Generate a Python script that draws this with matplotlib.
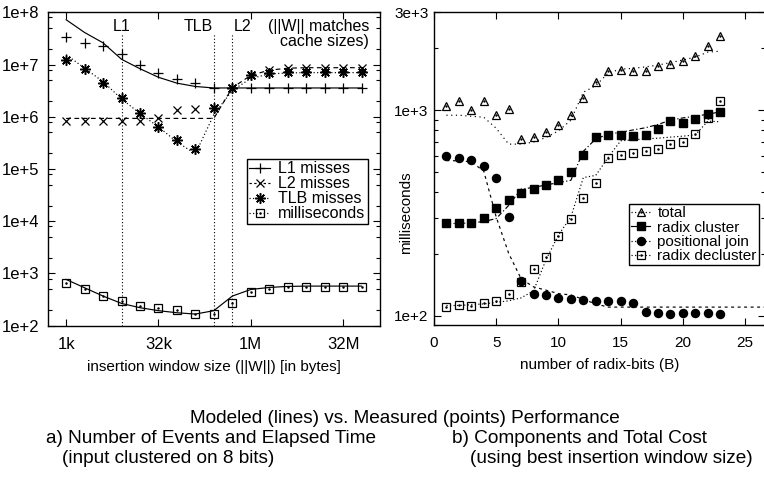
import matplotlib
matplotlib.use('Agg')
import matplotlib.pyplot as plt
from matplotlib.lines import Line2D
from matplotlib.ticker import LogLocator, NullLocator, FixedLocator, FixedFormatter
from matplotlib.transforms import blended_transform_factory

plt.rcParams['font.family'] = ['Liberation Sans', 'DejaVu Sans']

# ---- (a) events and elapsed time vs insertion window size (KB) ----
window_kb = [1, 2, 4, 8, 16, 32, 64, 128, 256, 512, 1024, 2048, 4096,
             8192, 16384, 32768, 65536]
l1_meas = [3.3e7, 2.6e7, 2.3e7, 1.56e7, 1.0e7, 7.0e6, 5.3e6, 4.4e6, 3.5e6,
           3.5e6, 3.5e6, 3.5e6, 3.5e6, 3.5e6, 3.5e6, 3.5e6, 3.5e6]
l1_model = [7.2e7, 4.1e7, 2.6e7, 1.26e7, 8.3e6, 5.7e6, 4.4e6, 3.8e6, 3.56e6,
            3.56e6, 3.56e6, 3.56e6, 3.56e6, 3.56e6, 3.56e6, 3.56e6, 3.56e6]
l2_meas = [8.4e5, 8.4e5, 8.4e5, 8.4e5, 8.4e5, 9.4e5, 1.32e6, 1.4e6, 1.48e6,
           3.5e6, 6.3e6, 7.9e6, 8.6e6, 8.7e6, 8.7e6, 8.7e6, 8.7e6]
l2_model = [9.3e5, 9.3e5, 9.3e5, 9.3e5, 9.3e5, 9.3e5, 9.3e5, 9.3e5, 9.3e5,
            3.6e6, 6.2e6, 7.8e6, 8.5e6, 8.7e6, 8.7e6, 8.7e6, 8.7e6]
tlb_meas = [1.23e7, 8.3e6, 4.5e6, 2.3e6, 1.19e6, 6.4e5, 3.6e5, 2.4e5, 1.48e6,
            3.5e6, 6.2e6, 6.8e6, 7.1e6, 7.1e6, 7.1e6, 7.1e6, 7.1e6]
tlb_model = [1.55e7, 8.5e6, 4.7e6, 2.2e6, 1.15e6, 6.4e5, 3.3e5, 1.95e5, 1.1e6,
             3.2e6, 5.4e6, 6.6e6, 6.9e6, 7.0e6, 7.0e6, 7.0e6, 7.0e6]
ms_meas = [644, 502, 374, 300, 241, 214, 199, 167, 167, 271, 433, 502, 540,
           548, 556, 556, 556]
ms_model = [768, 532, 369, 267, 221, 194, 177, 167, 194, 369, 494, 540, 565,
            573, 573, 573, 573]
cache_kb = [8, 256, 512]
cache_names = ['L1', 'TLB', 'L2']
xtick_kb = [1, 32, 1024, 32768]
xtick_labels = ['1k', '32k', '1M', '32M']

# ---- (b) cost components vs number of radix bits ----
bits = [1, 2, 3, 4, 5, 6, 7, 8, 9, 10, 11, 12, 13, 14, 15, 16, 17, 18, 19,
        20, 21, 22, 23]
total_meas = [1045, 1105, 1000, 1105, 953, 1019, 726, 745, 787, 847, 953,
              1146, 1368, 1557, 1574, 1557, 1557, 1644, 1687, 1738, 1836,
              2051, 2291]
total_model = [946, 946, 935, 925, 817, 684, 684, 700, 737, 793, 895, 1224,
               1318, 1519, 1585, 1600, 1626, 1660, 1706, 1758, 1816, 1919,
               1940]
cluster_meas = [281, 284, 284, 300, 335, 367, 395, 413, 432, 456, 500, 604,
                737, 759, 759, 750, 759, 811, 886, 863, 906, 957, 982]
cluster_model = [281, 281, 283, 287, 297, 344, 413, 421, 433, 444, 456, 631,
                 726, 764, 782, 802, 822, 853, 895, 918, 935, 957, 982]
join_meas = [597, 586, 571, 535, 470, 302, 147, 128, 126, 122, 121, 119, 118,
             118, 118, 115, 104, 103, 102, 103, 103, 103, 102]
join_bits = [1, 2, 3, 4, 5, 6, 7, 8, 9, 10, 11, 12, 13, 14, 15, 16, 17, 18,
             19, 20, 21, 22, 23, 24, 25, 26, 27]
join_model = [569, 567, 561, 505, 302, 201, 151, 138, 133, 128, 126, 120, 114,
              110, 110, 110, 110, 110, 110, 110, 110, 110, 110, 110, 110, 110,
              110]
decl_meas = [110, 113, 111, 115, 118, 128, 145, 169, 194, 244, 297, 374, 442,
             586, 608, 620, 631, 650, 684, 699, 764, 922, 1110]
decl_model = [112, 112, 113, 114, 116, 118, 122, 132, 187, 247, 302, 470, 482,
              590, 710, 718, 726, 731, 740, 748, 759, 885, 879]

W, H = 764, 483
fig = plt.figure(figsize=(W / 100, H / 100), dpi=100)
ax1 = fig.add_axes([47.7 / W, 1 - 325.7 / H, 332.3 / W, 313.4 / H])
ax2 = fig.add_axes([434 / W, 1 - 325 / H, 331 / W, 312.7 / H])

lw = 0.85
k = 'black'


def dotted_square(ax, x, y, ms=6):
    ax.plot(x, y, ls='none', marker='s', ms=ms, mfc='none', mec=k, mew=0.9)
    ax.plot(x, y, ls='none', marker='.', ms=1.6, color=k)


# panel a
ax1.plot(window_kb, l1_model, color=k, lw=lw)
ax1.plot(window_kb, l1_meas, ls='none', marker='+', ms=6.5, mew=0.9, color=k)
ax1.plot(window_kb, l2_model, color=k, lw=lw, ls=(0, (4, 3)))
ax1.plot(window_kb, l2_meas, ls='none', marker='x', ms=5.5, mew=0.9, color=k)
ax1.plot(window_kb, tlb_model, color=k, lw=lw, ls=(0, (1, 2)))
ax1.plot(window_kb, tlb_meas, ls='none', marker=(8, 2, 0), ms=7.5, mew=1.1,
         color=k)
ax1.plot(window_kb, ms_model, color=k, lw=lw)
dotted_square(ax1, window_kb, ms_meas)

for c in cache_kb:
    ax1.axvline(c, ymin=0, ymax=0.934, color=k, lw=0.8, ls=(0, (1, 2)))
tr = blended_transform_factory(ax1.transData, ax1.transAxes)
ax1.text(cache_kb[0], 0.954, cache_names[0], transform=tr, ha='center',
         va='center', fontsize=11.5)
ax1.text(cache_kb[1] * 0.96, 0.954, cache_names[1], transform=tr, ha='right',
         va='center', fontsize=11.5)
ax1.text(cache_kb[2] * 1.04, 0.954, cache_names[2], transform=tr, ha='left',
         va='center', fontsize=11.5)
ax1.text(0.967, 0.954, '(||W|| matches', transform=ax1.transAxes, ha='right',
         va='center', fontsize=11.5)
ax1.text(0.967, 0.906, 'cache sizes)', transform=ax1.transAxes, ha='right',
         va='center', fontsize=11.5)

ax1.set_xscale('log', base=2)
ax1.set_yscale('log')
ax1.set_xlim(0.5, 131072)
ax1.set_ylim(1e2, 1e8)
ax1.xaxis.set_major_locator(FixedLocator(xtick_kb))
ax1.xaxis.set_major_formatter(FixedFormatter(xtick_labels))
ax1.xaxis.set_minor_locator(NullLocator())
ax1.set_yticks([1e2, 1e3, 1e4, 1e5, 1e6, 1e7, 1e8])
ax1.set_yticklabels(['1e+2', '1e+3', '1e+4', '1e+5', '1e+6', '1e+7', '1e+8'])
ax1.yaxis.set_minor_locator(LogLocator(base=10, subs=[2, 5, 8]))
ax1.set_xlabel('insertion window size (||W||) [in bytes]', fontsize=11,
               labelpad=6)

h_l1 = Line2D([], [], color=k, lw=lw, marker='+', ms=6.5, mew=0.9)
h_l2 = Line2D([], [], color=k, lw=lw, ls=(0, (2, 2)), marker='x', ms=5.5,
              mew=0.9)
h_tlb = Line2D([], [], color=k, lw=lw, ls=(0, (1, 2)), marker=(8, 2, 0),
               ms=7.5, mew=1.1)
h_ms = (Line2D([], [], color=k, lw=lw, ls=(0, (1, 2)), marker='s', ms=6,
               mfc='none', mew=0.9),
        Line2D([], [], ls='none', marker='.', ms=1.6, color=k))
leg1 = ax1.legend([h_l1, h_l2, h_tlb, h_ms],
                  ['L1 misses', 'L2 misses', 'TLB misses', 'milliseconds'],
                  loc='upper right', bbox_to_anchor=(0.963, 0.532),
                  borderaxespad=0, fontsize=11.5, handlelength=1.3,
                  handletextpad=0.5, labelspacing=0.0, borderpad=0.15,
                  fancybox=False, framealpha=1, edgecolor=k)
leg1.get_frame().set_linewidth(1.0)

# panel b
ax2.plot(bits, total_model, color=k, lw=lw, ls=(0, (1, 3)))
ax2.plot(bits, total_meas, ls='none', marker='^', ms=5.5, mfc='none', mec=k,
         mew=0.9)
ax2.plot(bits, total_meas, ls='none', marker='.', ms=1.4, color=k)
ax2.plot(bits, cluster_model, color=k, lw=lw, ls=(0, (4, 2, 1, 2)))
ax2.plot(bits, cluster_meas, ls='none', marker='s', ms=6, color=k)
ax2.plot(join_bits, join_model, color=k, lw=lw, ls=(0, (2.5, 3)))
ax2.plot(bits, join_meas, ls='none', marker='o', ms=5.8, color=k)
ax2.plot(bits, decl_model, color=k, lw=lw, ls=(0, (1, 2)))
dotted_square(ax2, bits, decl_meas)

ax2.set_yscale('log')
ax2.set_xlim(0, 26.6)
ax2.set_ylim(90, 3000)
ax2.set_xticks([0, 5, 10, 15, 20, 25])
ax2.xaxis.set_minor_locator(NullLocator())
ax2.set_yticks([100, 1000, 3000])
ax2.set_yticklabels(['1e+2', '1e+3', '3e+3'])
ax2.yaxis.set_minor_locator(LogLocator(base=10, subs=[2, 3, 4, 5, 6, 7, 8, 9]))
ax2.set_xlabel('number of radix-bits (B)', fontsize=11, labelpad=6)
ax2.set_ylabel('milliseconds', fontsize=11)
ax2.yaxis.set_label_coords(-0.063, 0.36)

h_tot = (Line2D([], [], color=k, lw=lw, ls=(0, (1, 2)), marker='^', ms=5.5,
                mfc='none', mew=0.9),
         Line2D([], [], ls='none', marker='.', ms=1.4, color=k))
h_cl = Line2D([], [], color=k, lw=lw, marker='s', ms=6)
h_jn = Line2D([], [], color=k, lw=lw, ls=(0, (1, 2)), marker='o', ms=5.8)
h_dc = (Line2D([], [], color=k, lw=lw, ls=(0, (1, 2)), marker='s', ms=6,
               mfc='none', mew=0.9),
        Line2D([], [], ls='none', marker='.', ms=1.6, color=k))
leg2 = ax2.legend([h_tot, h_cl, h_jn, h_dc],
                  ['total', 'radix cluster', 'positional join',
                   'radix decluster'],
                  loc='upper right', bbox_to_anchor=(0.982, 0.387),
                  borderaxespad=0, fontsize=11, handlelength=1.2,
                  handletextpad=0.5, labelspacing=0.02, borderpad=0.15,
                  fancybox=False, framealpha=1, edgecolor=k)
leg2.get_frame().set_linewidth(1.0)

for ax, tsize, pad_y in ((ax1, 12, 6), (ax2, 11, 4)):
    ax.tick_params(which='both', direction='in', top=True, right=True,
                   width=0.8, color=k)
    ax.tick_params(which='major', length=5)
    ax.tick_params(which='minor', length=2.8)
    ax.tick_params(axis='x', labelsize=tsize, pad=8)
    ax.tick_params(axis='y', labelsize=tsize, pad=pad_y)
    for s in ax.spines.values():
        s.set_linewidth(1.0)

# caption
cap = 13.7
fig.text(190 / W, 1 - 423.3 / H,
         'Modeled (lines) vs. Measured (points) Performance',
         ha='left', va='baseline', fontsize=cap)
fig.text(46 / W, 1 - 443.3 / H, 'a) Number of Events and Elapsed Time',
         ha='left', va='baseline', fontsize=cap)
fig.text(62 / W, 1 - 463.3 / H, '(input clustered on 8 bits)',
         ha='left', va='baseline', fontsize=cap)
fig.text(452 / W, 1 - 443.3 / H, 'b) Components and Total Cost',
         ha='left', va='baseline', fontsize=cap)
fig.text(470 / W, 1 - 463.3 / H, '(using best insertion window size)',
         ha='left', va='baseline', fontsize=cap)

fig.savefig('out.png', dpi=100)
